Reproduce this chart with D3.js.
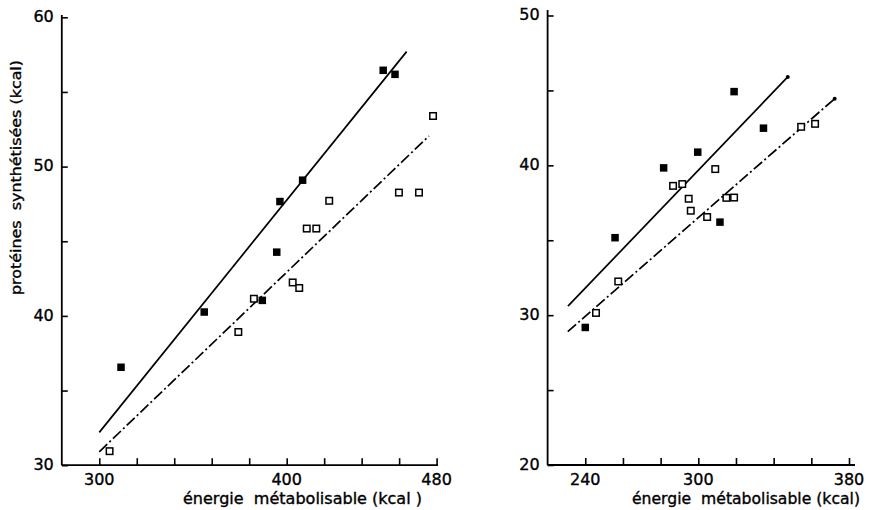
<!DOCTYPE html>
<html>
<head>
<meta charset="utf-8">
<script src="https://cdn.jsdelivr.net/npm/d3@7"></script>
<style>
  html, body { margin: 0; padding: 0; background: #fff; }
  svg { display: block; }
  text { font-family: "DejaVu Sans", sans-serif; fill: #000; stroke: #000; stroke-width: 0.35px; }
</style>
</head>
<body>
<svg id="chart" width="869" height="510"></svg>
<script>
// ---------- data ----------
// Left panel: x = énergie métabolisable (kcal), y = protéines synthétisées (kcal)
const leftFilled = [[311.6,36.56],[356.0,40.26],[387.0,41.04],[394.7,44.27],[396.4,47.66],[408.5,49.09],[451.5,56.45],[457.8,56.18]];
const leftOpen = [[305.5,30.94],[374.2,38.92],[382.5,41.15],[403.2,42.24],[406.7,41.87],[410.7,45.85],[415.8,45.85],[422.7,47.71],[459.9,48.26],[470.6,48.26],[478.1,53.39]];
const leftSolidLine = [[300,32.2],[464,57.7]];
const leftDashDotLine = [[300,30.9],[475.9,52.05]];
const leftXTicks = [300,320,340,360,380,400,420,440,460,480];
const leftXLabels = [300,400,480];
const leftYTicks = [30,35,40,45,50,55,60];
const leftYLabels = [30,40,50,60];

// Right panel
const rightFilled = [[240,29.18],[255.8,35.17],[281.6,39.83],[299.7,40.88],[311.5,36.21],[319.0,44.92],[334.6,42.48]];
const rightOpen = [[245.7,30.15],[257.5,32.25],[286.6,38.63],[291.5,38.75],[294.9,37.77],[296.0,36.97],[304.7,36.55],[309.0,39.75],[314.9,37.83],[319.0,37.85],[354.6,42.57],[362.0,42.77]];
const rightSolidLine = [[230.8,30.6],[347.5,45.9]];
const rightDashDotLine = [[230.7,28.9],[372.4,44.45]];
const rightXTicks = [240,260,280,300,320,340,360,380];
const rightXLabels = [240,300,380];
const rightYTicks = [20,25,30,35,40,45,50];
const rightYLabels = [20,30,40,50];

const yTitle = "protéines  synthétisées (kcal)";
const xTitleLeft = "énergie  métabolisable (kcal )";
const xTitleRight = "énergie  métabolisable (kcal)";

// ---------- drawing ----------
const svg = d3.select("#chart");

function panel(cfg) {
  const g = svg.append("g");
  const x = d3.scaleLinear().domain(cfg.xDomain).range(cfg.xRange);
  const y = d3.scaleLinear().domain(cfg.yDomain).range(cfg.yRange);

  // axes lines
  g.append("line").attr("x1", cfg.xRange[0]).attr("x2", cfg.xAxisEnd)
    .attr("y1", y(cfg.yDomain[0])).attr("y2", y(cfg.yDomain[0]))
    .attr("stroke", "#000").attr("stroke-width", 1.8);
  g.append("line").attr("x1", x(cfg.xDomain[0])).attr("x2", x(cfg.xDomain[0]))
    .attr("y1", y(cfg.yDomain[0])).attr("y2", cfg.yAxisTop)
    .attr("stroke", "#000").attr("stroke-width", 1.8);

  // x ticks (inward, upward)
  const xAxis = d3.axisTop(x).tickValues(cfg.xTicks).tickSize(7).tickFormat("");
  const gx = g.append("g").attr("transform", `translate(0,${y(cfg.yDomain[0])})`).call(xAxis);
  gx.select(".domain").remove();
  gx.selectAll(".tick line").attr("stroke", "#000").attr("stroke-width", 1.6);

  // y ticks (inward, rightward)
  const yAxis = d3.axisRight(y).tickValues(cfg.yTicks).tickSize(6).tickFormat("");
  const gy = g.append("g").attr("transform", `translate(${x(cfg.xDomain[0])},0)`).call(yAxis);
  gy.select(".domain").remove();
  gy.selectAll(".tick line").attr("stroke", "#000").attr("stroke-width", 1.6);

  // tick labels
  g.selectAll(".xl").data(cfg.xLabels).enter().append("text")
    .attr("x", d => x(d)).attr("y", 485)
    .attr("text-anchor", "middle").attr("font-size", 16)
    .text(d => d);
  g.selectAll(".yl").data(cfg.yLabels).enter().append("text")
    .attr("x", x(cfg.xDomain[0]) - 8).attr("y", d => y(d))
    .attr("dy", "0.3em")
    .attr("text-anchor", "end").attr("font-size", 16)
    .text(d => d);

  // regression lines
  const line = d3.line().x(d => x(d[0])).y(d => y(d[1]));
  g.append("path").attr("d", line(cfg.solid))
    .attr("fill", "none").attr("stroke", "#000").attr("stroke-width", 1.7);
  g.append("path").attr("d", line(cfg.dashdot))
    .attr("fill", "none").attr("stroke", "#000").attr("stroke-width", 1.7)
    .attr("stroke-dasharray", "11,3,2,3");
  if (cfg.endDots) {
    const e1 = cfg.solid[cfg.solid.length - 1];
    g.append("circle").attr("cx", x(e1[0])).attr("cy", y(e1[1])).attr("r", 2).attr("fill", "#000");
    const e2 = cfg.dashdot[cfg.dashdot.length - 1];
    g.append("circle").attr("cx", x(e2[0])).attr("cy", y(e2[1])).attr("r", 2).attr("fill", "#000");
  }

  // markers
  const s = 7.5;
  g.selectAll(".open").data(cfg.open).enter().append("rect")
    .attr("x", d => x(d[0]) - s/2 + 0.5).attr("y", d => y(d[1]) - s/2 + 0.5)
    .attr("width", s - 1).attr("height", s - 1)
    .attr("fill", "#fff").attr("stroke", "#000").attr("stroke-width", 1.5);
  g.selectAll(".filled").data(cfg.filled).enter().append("rect")
    .attr("x", d => x(d[0]) - s/2).attr("y", d => y(d[1]) - s/2)
    .attr("width", s).attr("height", s)
    .attr("fill", "#000");

  // x title
  g.append("text").attr("x", cfg.xTitleX).attr("y", 504)
    .attr("font-size", 15).attr("textLength", cfg.xTitleLen).attr("lengthAdjust", "spacingAndGlyphs")
    .style("white-space", "pre")
    .text(cfg.xTitle);
  return {x, y};
}

panel({
  xDomain: [280, 480], xRange: [61.8, 436.6], xAxisEnd: 438,
  yDomain: [30, 60], yRange: [465.2, 17.3], yAxisTop: 15,
  xTicks: leftXTicks, xLabels: leftXLabels, yTicks: leftYTicks, yLabels: leftYLabels,
  filled: leftFilled, open: leftOpen, solid: leftSolidLine, dashdot: leftDashDotLine,
  xTitle: xTitleLeft, xTitleX: 183, xTitleLen: 239, endDots: false
});

panel({
  xDomain: [220, 380], xRange: [547.6, 849], xAxisEnd: 855,
  yDomain: [20, 50], yRange: [465, 15.5], yAxisTop: 10,
  xTicks: rightXTicks, xLabels: rightXLabels, yTicks: rightYTicks, yLabels: rightYLabels,
  filled: rightFilled, open: rightOpen, solid: rightSolidLine, dashdot: rightDashDotLine,
  xTitle: xTitleRight, xTitleX: 632, xTitleLen: 228, endDots: true
});

// y title (left panel only)
svg.append("text")
  .attr("transform", "translate(21,295) rotate(-90)")
  .attr("font-size", 14)
  .attr("textLength", 235).attr("lengthAdjust", "spacingAndGlyphs")
  .style("white-space", "pre")
  .text(yTitle);
</script>
</body>
</html>
